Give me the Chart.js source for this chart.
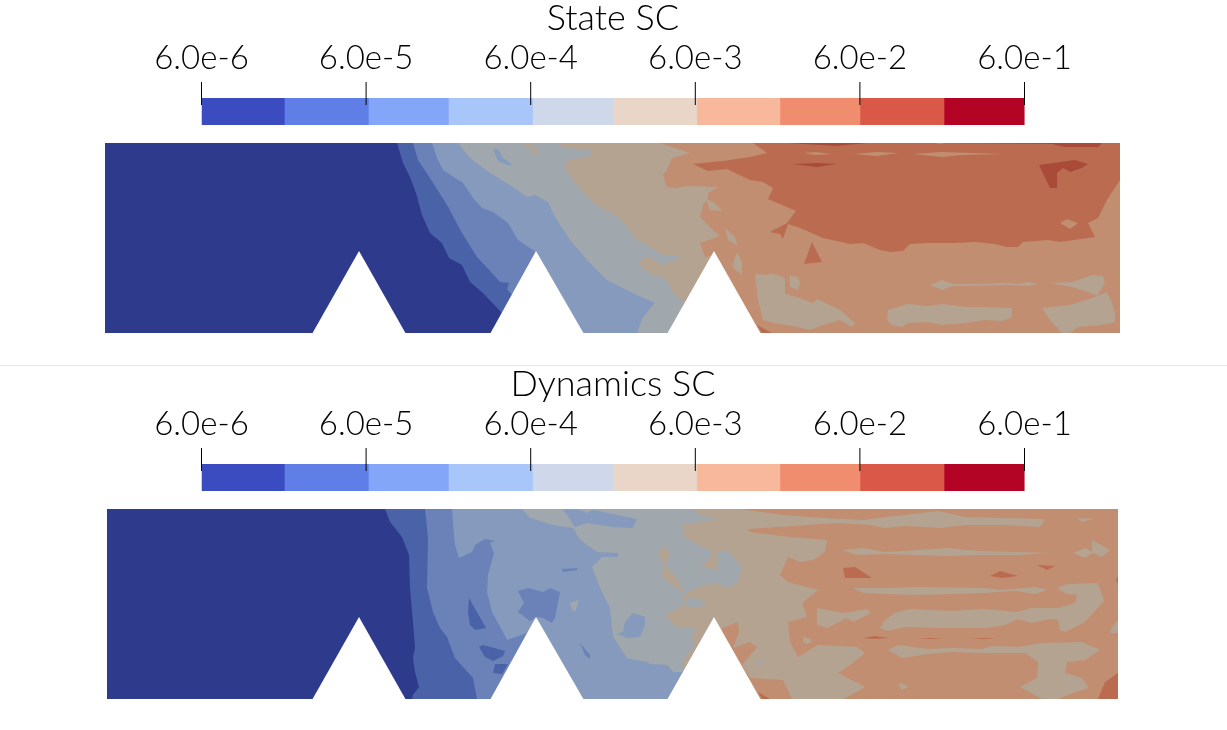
<!DOCTYPE html>
<html>
<head>
<meta charset="utf-8">
<title>State SC / Dynamics SC</title>
<script src="https://cdn.jsdelivr.net/npm/chart.js@4.4.0/dist/chart.umd.js"></script>
<style>
    html, body { margin: 0; background: #fff; overflow: hidden; }
    canvas { position: absolute; }
    #divider { position: absolute; left: 0; top: 365px; width: 1227px; height: 1px; background: #e8e8e8; }
</style>
</head>
<body>
<canvas id="barState" width="1227" height="130" style="left:0;top:0"></canvas>
<canvas id="fieldState" width="1015" height="190" style="left:105px;top:143px"></canvas>
<div id="divider"></div>
<canvas id="barDynamics" width="1227" height="130" style="left:0;top:366px"></canvas>
<canvas id="fieldDynamics" width="1011" height="190" style="left:107px;top:509px"></canvas>
<script>
// colour bar
const barEdges = [6e-6, 1.92e-5, 6.22e-5, 1.906e-4, 6.18e-4, 1.897e-3, 6.15e-3, 1.968e-2, 6.03e-2, 1.955e-1, 6e-1];
const barColors = ['#3b4cc0', '#5f7ee6', '#84a6f9', '#a9c6fb', '#cfd8ea', '#ead5c9', '#f7b89b', '#f18d6f', '#d95847', '#b40426'];
const tickValues = [6e-6, 6e-5, 6e-4, 6e-3, 6e-2, 6e-1];
const tickLabels = ['6.0e-6', '6.0e-5', '6.0e-4', '6.0e-3', '6.0e-2', '6.0e-1'];

// contour bands of the two fields, from low to high
const bandColors = ['#2e3a8c', '#4a62a8', '#6a82b8', '#859abc', '#a0a7ad', '#b5a391', '#c18e72', '#bb6c50', '#a94b38'];

// [band, outline], painted in this order
const stateContours = [
    [0, [105,143, 1120,143, 1120,333, 105,333]],
    [1, [397,143, 403,163, 410,177, 416,193, 422,215, 430,233, 442,243, 449,258, 462,265, 470,282, 483,293, 501,312, 510,333, 1120,333, 1120,143]],
    [2, [413,143, 418,160, 430,178, 447,205, 462,233, 477,257, 492,273, 500,282, 509,283, 507,289, 511,294, 525,310, 540,333, 1120,333, 1120,143]],
    [3, [432,143, 437,158, 443,170, 463,183, 473,198, 482,208, 493,212, 508,223, 518,240, 536,252, 545,270, 560,333, 1120,333, 1120,143]],
    [4, [458,143, 470,158, 490,173, 513,187, 527,197, 535,195, 548,202, 555,217, 570,240, 587,260, 607,280, 633,293, 655,303, 643,317, 637,333, 1120,333, 1120,143]],
    [5, [555,143, 567,148, 590,150, 593,155, 580,158, 568,160, 565,168, 573,180, 593,203, 620,218, 637,240, 650,247, 662,255, 683,257, 663,265, 650,257, 647,257, 638,263, 647,272, 667,280, 673,293, 684,303, 700,320, 720,333, 1120,333, 1120,143]],
    [6, [660,143, 690,153, 672,158, 667,170, 663,175, 667,187, 677,188, 687,186, 718,187, 708,193, 708,199, 703,205, 700,217, 715,232, 720,236, 700,243, 705,257, 714,255, 716,290, 740,333, 1120,333, 1120,143]],
    [7, [753,143, 767,153, 750,157, 723,161, 693,164, 708,171, 727,169, 750,180, 763,182, 773,188, 768,199, 782,205, 796,211, 792,216, 787,223, 770,232, 780,234, 783,239, 788,224, 800,228, 823,238, 850,244, 863,243, 880,250, 890,252, 903,251, 910,244, 928,243, 955,243, 975,242, 995,244, 1007,247, 1018,247, 1023,242, 1048,240, 1060,242, 1095,237, 1088,223, 1098,218, 1107,200, 1118,183, 1120,180, 1120,143]],
    // islands
    [3, [493,149, 498,149, 503,158, 513,165, 507,165, 498,161]],
    [5, [523,143, 530,143, 540,153, 537,155]],
    [5, [706,199, 713,202, 722,211, 710,210]],
    [5, [725,228, 735,237, 737,245, 728,240]],
    [5, [737,252, 742,262, 742,275, 732,267]],
    [5, [755,274, 768,275, 770,273, 778,275, 785,278, 785,294, 797,297, 813,303, 817,299, 840,310, 855,323, 852,327, 840,320, 823,325, 810,330, 793,326, 773,323, 763,320, 758,300]],
    [5, [789,276, 798,277, 800,283, 798,290, 790,287]],
    [5, [888,310, 908,304, 928,306, 943,304, 965,307, 985,307, 1012,308, 1012,317, 1003,321, 985,320, 965,323, 942,325, 928,322, 908,323, 902,327, 892,325, 887,320]],
    [5, [930,285, 942,280, 953,284, 985,284, 1002,283, 1020,284, 1028,282, 1037,284, 1028,286, 1012,285, 953,286, 942,290]],
    [5, [1050,283, 1072,282, 1092,275, 1103,276, 1105,283, 1097,296, 1088,292, 1072,287]],
    [5, [1042,308, 1070,305, 1095,297, 1107,292, 1112,303, 1115,313, 1115,322, 1102,325, 1078,327, 1070,333, 1062,333, 1050,320]],
    [6, [804,153, 815,152, 832,154, 815,155]],
    [6, [853,154, 877,152, 898,153, 877,156]],
    [6, [913,154, 942,152, 1003,154, 962,155, 942,157]],
    [6, [935,143, 945,143, 940,144]],
    [6, [1060,223, 1067,219, 1078,223, 1070,229]],
    [7, [812,242, 822,262, 813,263, 804,264]],
    [7, [757,325, 772,333, 762,333]],
    [8, [793,164, 817,163, 837,164, 817,167]],
    [8, [787,143, 867,143, 837,146]],
    [8, [945,143, 1102,143, 1098,147, 1065,147, 1052,144]],
    [8, [1039,165, 1075,160, 1088,164, 1082,168, 1070,172, 1063,168, 1057,173, 1057,188, 1050,188]]
];

const dynamicsContours = [
    [0, [107,509, 1118,509, 1118,699, 107,699]],
    [1, [385,509, 390,522, 402,537, 409,555, 410,588, 413,622, 415,648, 413,658, 415,672, 419,687, 413,695, 412,699, 1118,699, 1118,509]],
    [2, [425,509, 428,538, 427,588, 433,612, 440,628, 447,637, 455,658, 473,678, 477,699, 1118,699, 1118,509]],
    [3, [452,509, 453,525, 455,545, 459,558, 472,552, 475,545, 485,539, 495,541, 490,543, 494,553, 488,575, 487,592, 492,612, 503,632, 507,640, 527,633, 530,640, 540,699, 1118,699, 1118,509]],
    [4, [522,509, 530,518, 553,525, 573,528, 580,540, 597,552, 618,553, 618,557, 602,557, 592,567, 600,588, 610,608, 613,637, 627,658, 647,662, 650,664, 667,665, 673,672, 682,672, 690,680, 700,699, 1118,699, 1118,509]],
    [5, [692,509, 700,515, 718,519, 682,525, 685,538, 693,542, 713,552, 707,562, 700,566, 718,570, 717,552, 727,550, 742,567, 737,583, 727,588, 715,583, 700,586, 685,594, 681,606, 665,616, 678,628, 695,628, 692,640, 695,645, 685,658, 683,665, 690,680, 700,699, 1118,699, 1118,509]],
    [6, [740,509, 748,530, 750,532, 790,537, 827,540, 825,552, 813,560, 800,562, 788,557, 780,575, 788,582, 818,590, 802,603, 807,617, 788,622, 790,642, 798,657, 818,645, 857,647, 865,653, 850,665, 838,673, 865,687, 855,693, 843,699, 1118,699, 1118,509]],
    [6, [722,628, 738,622, 739,632, 733,648, 750,642, 757,647, 742,665, 750,678, 783,680, 792,699, 760,699, 720,660]],
    // islands
    [3, [563,509, 580,510, 587,513, 593,510, 637,519, 633,528, 613,527, 587,523, 575,527]],
    [3, [633,613, 645,617, 645,625, 640,637, 628,638, 617,634, 623,632, 625,622]],
    [2, [518,591, 528,588, 543,592, 550,588, 560,592, 555,618, 552,623, 543,618, 537,617, 530,621, 518,612, 524,603]],
    [2, [562,569, 577,568, 577,570, 563,572]],
    [2, [580,643, 590,655, 590,659, 585,655]],
    [1, [469,598, 486,628, 475,630, 470,625, 468,612]],
    [1, [479,647, 483,645, 505,651, 503,656, 493,661, 485,657]],
    [1, [495,664, 508,664, 502,674, 493,673]],
    [4, [570,603, 579,600, 575,612, 572,609]],
    [5, [663,546, 670,553, 665,565, 678,580, 685,594, 680,590, 662,577, 663,565, 659,553]],
    [4, [690,597, 707,602, 700,607, 681,606]],
    [4, [754,590, 756,589, 756,592]],
    [4, [756,663, 767,657, 758,665]],
    [4, [849,650, 854,650, 851,652]],
    [5, [740,509, 783,515, 823,518, 863,520, 885,517, 905,515, 938,511, 965,517, 1002,518, 1045,519, 1040,527, 1002,525, 965,525, 942,528, 905,526, 885,528, 870,525, 837,523, 807,525, 748,529, 735,530]],
    [5, [842,550, 863,548, 885,552, 918,550, 948,548, 978,551, 1018,552, 1050,553, 1018,555, 978,555, 948,556, 918,555, 885,554, 857,555]],
    [5, [853,588, 885,588, 918,587, 985,588, 1002,590, 1035,587, 1048,590, 1035,594, 1015,591, 985,593, 918,595, 885,594, 863,593]],
    [5, [817,608, 843,613, 867,609, 871,613, 853,622, 847,618, 827,628, 817,625]],
    [5, [880,628, 885,620, 895,613, 910,609, 952,611, 985,609, 1017,612, 1032,608, 1058,608, 1075,603, 1077,595, 1067,594, 1057,588, 1068,584, 1098,583, 1104,601, 1085,622, 1065,632, 1060,630, 1058,620, 1050,619, 1032,623, 1018,619, 1005,625, 985,628, 945,628, 905,627, 888,631]],
    [5, [803,636, 812,640, 808,644, 803,642]],
    [5, [888,650, 898,645, 928,649, 952,648, 982,649, 992,646, 1018,647, 1042,643, 1082,642, 1100,650, 1085,660, 1067,662, 1065,673, 1082,678, 1089,688, 1075,692, 1058,699, 1042,699, 1020,687, 1037,678, 1038,662, 1025,653, 982,653, 952,652, 928,654, 902,658]],
    [5, [898,685, 902,683, 908,687, 902,690]],
    [5, [1077,518, 1093,519, 1082,522]],
    [5, [1073,553, 1085,548, 1092,552, 1092,540, 1110,550, 1102,557, 1093,553, 1085,558]],
    [5, [1110,633, 1112,627, 1118,620, 1118,633]],
    [7, [843,568, 855,567, 872,578, 845,578]],
    [7, [863,638, 875,636, 889,638, 875,639]],
    [7, [758,692, 770,699, 762,699]],
    [7, [1037,565, 1055,566, 1047,570]],
    [7, [990,576, 1000,571, 1018,576, 1002,578]],
    [7, [918,638, 930,638, 943,639, 930,639]],
    [7, [970,638, 983,638, 997,639, 983,639]],
    [7, [1098,699, 1105,682, 1118,673, 1118,699]],
    [7, [1116,580, 1118,576, 1118,584]]
];

// the three notches cut out of the mesh
const stateHoles = [
    [359,251, 312,334, 406,334],
    [536,251, 490,334, 584,334],
    [714,251, 667,334, 761,334]
];
const dynamicsHoles = [
    [359,617, 312,700, 406,700],
    [536,617, 490,700, 584,700],
    [714,617, 667,700, 761,700]
];

const tickFont = { family: 'Lato', size: 33, weight: '300' };
const titleFont = { family: 'Lato', size: 36, weight: '300', lineHeight: 1 };

function toPoints(flat) {
    const pts = [];
    for (let i = 0; i < flat.length; i += 2) pts.push({ x: flat[i], y: flat[i + 1] });
    pts.push({ x: flat[0], y: flat[1] });
    return pts;
}

function polygon(points, color) {
    return {
        data: points,
        showLine: true,
        fill: 'shape',
        backgroundColor: color,
        borderWidth: 0,
        borderDash: [1],
        pointRadius: 0,
        pointHoverRadius: 0
    };
}

function drawBar(id, title) {
    const datasets = [];
    // each band runs on to the end so no seams show between them
    barColors.forEach((c, i) => {
        datasets.push(polygon([
            { x: barEdges[i], y: 0 }, { x: barEdges[barEdges.length - 1], y: 0 },
            { x: barEdges[barEdges.length - 1], y: 0.628 }, { x: barEdges[i], y: 0.628 }, { x: barEdges[i], y: 0 }
        ], c));
    });
    tickValues.forEach(v => {
        datasets.push({
            data: [{ x: v, y: 0.465 }, { x: v, y: 1 }],
            showLine: true, borderColor: '#000', borderWidth: 1, pointRadius: 0, clip: false
        });
    });
    datasets.forEach((d, i) => { d.order = datasets.length - i; });

    new Chart(document.getElementById(id), {
        type: 'scatter',
        data: { datasets },
        options: {
            responsive: false,
            animation: false,
            events: [],
            layout: { padding: { left: 201.5, right: 202.5, top: 0, bottom: 5 } },
            plugins: {
                legend: { display: false },
                tooltip: { enabled: false },
                title: { display: true, text: title, color: '#000', font: titleFont, padding: { top: 0, bottom: 4 } }
            },
            scales: {
                x: {
                    type: 'logarithmic',
                    position: 'top',
                    min: tickValues[0],
                    max: tickValues[tickValues.length - 1],
                    afterBuildTicks: s => { s.ticks = tickValues.map(value => ({ value })); },
                    afterFit: s => { s.height = 42; },
                    grid: { display: false, drawTicks: false },
                    border: { display: false },
                    ticks: {
                        color: '#000', font: tickFont, padding: 4,
                        autoSkip: false, maxRotation: 0, minRotation: 0,
                        callback: (v, i) => tickLabels[i]
                    }
                },
                y: { display: false, min: 0, max: 1 }
            }
        }
    });
}

function drawField(id, contours, holes, xMin, xMax, yMin, yMax) {
    const datasets = contours.map(([band, outline]) => polygon(toPoints(outline), bandColors[band]));
    holes.forEach(h => datasets.push(polygon(toPoints(h), '#fff')));
    datasets.forEach((d, i) => { d.order = datasets.length - i; });

    new Chart(document.getElementById(id), {
        type: 'scatter',
        data: { datasets },
        options: {
            responsive: false,
            animation: false,
            events: [],
            layout: { padding: 0 },
            plugins: { legend: { display: false }, tooltip: { enabled: false } },
            scales: {
                x: { display: false, min: xMin, max: xMax },
                y: { display: false, min: yMin, max: yMax, reverse: true }
            }
        }
    });
}

drawBar('barState', 'State SC');
drawField('fieldState', stateContours, stateHoles, 105, 1120, 143, 333);
drawBar('barDynamics', 'Dynamics SC');
drawField('fieldDynamics', dynamicsContours, dynamicsHoles, 107, 1118, 509, 699);
</script>
</body>
</html>
